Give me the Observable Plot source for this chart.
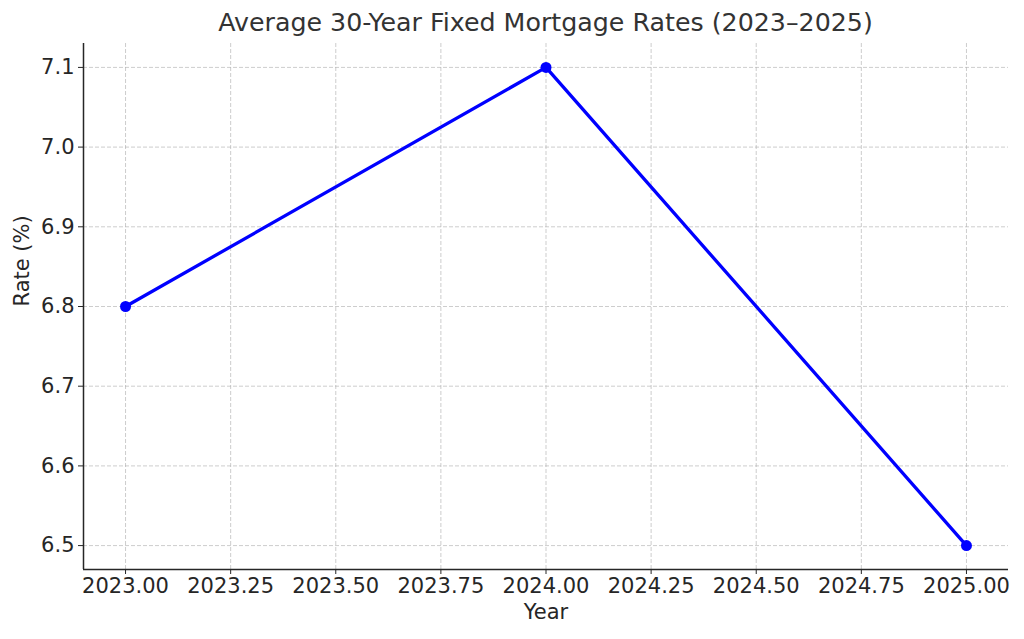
<!DOCTYPE html>
<html>
<head>
<meta charset="utf-8">
<script src="https://cdn.jsdelivr.net/npm/d3@7"></script>
<script src="https://cdn.jsdelivr.net/npm/@observablehq/plot@0.6"></script>
<style>
  html, body { margin: 0; padding: 0; background: #fff; }
  #wrap { position: relative; width: 1024px; height: 639px; font-family: "DejaVu Sans", sans-serif; }
  #title { position: absolute; z-index: 2; left: 0; width: 1091px; top: 8px; text-align: center; font-size: 25.3px; line-height: 30px; color: #333; white-space: nowrap; }
  svg { position: absolute; left: 0; top: 0; z-index: 1; }
</style>
</head>
<body>
<div id="wrap">
  <div id="title">Average 30-Year Fixed Mortgage Rates (2023–2025)</div>
</div>
<script>
const years = [2023, 2024, 2025];
const rates = [6.8, 7.1, 6.5];
const xTicks = [2023, 2023.25, 2023.5, 2023.75, 2024, 2024.25, 2024.5, 2024.75, 2025];
const yTicks = [6.5, 6.6, 6.7, 6.8, 6.9, 7.0, 7.1];

const data = years.map((y, i) => ({year: y, rate: rates[i]}));
const xDomain = [2022.9, 2025.1];
const yDomain = [6.47, 7.13];
const ink = "#262626";

const chart = Plot.plot({
  width: 1024,
  height: 639,
  marginTop: 43,
  marginBottom: 70,
  marginLeft: 83,
  marginRight: 16,
  style: {fontFamily: "DejaVu Sans, sans-serif", fontSize: "21px", color: ink, background: "white"},
  x: {domain: xDomain, ticks: xTicks, tickFormat: d3.format(".2f"), label: null},
  y: {domain: yDomain, ticks: yTicks, tickFormat: d3.format(".1f"), label: null},
  marks: [
    Plot.gridX(xTicks, {stroke: "#b0b0b0", strokeOpacity: 0.7, strokeWidth: 0.9, strokeDasharray: "4,2"}),
    Plot.gridY(yTicks, {stroke: "#b0b0b0", strokeOpacity: 0.7, strokeWidth: 0.9, strokeDasharray: "4,2"}),
    Plot.axisX(xTicks, {tickSize: 5, tickPadding: 4, fontSize: 21, stroke: ink, fill: ink, tickFormat: d3.format(".2f"), label: null}),
    Plot.axisY(yTicks, {tickSize: 5, tickPadding: 4, fontSize: 21, stroke: ink, fill: ink, tickFormat: d3.format(".1f"), label: null}),
    Plot.ruleX([xDomain[0]], {stroke: ink, strokeWidth: 1.5}),
    Plot.ruleY([yDomain[0]], {stroke: ink, strokeWidth: 1.5}),
    Plot.line(data, {x: "year", y: "rate", stroke: "#0000ff", strokeWidth: 3.3}),
    Plot.dot(data, {x: "year", y: "rate", fill: "#0000ff", r: 5.5}),
    Plot.text(["Year"], {frameAnchor: "bottom", dy: 49, fontSize: 21, fill: ink}),
    Plot.text(["Rate (%)"], {frameAnchor: "left", dx: -61, rotate: -90, fontSize: 21, fill: ink})
  ]
});
document.getElementById("wrap").appendChild(chart);
</script>
</body>
</html>
